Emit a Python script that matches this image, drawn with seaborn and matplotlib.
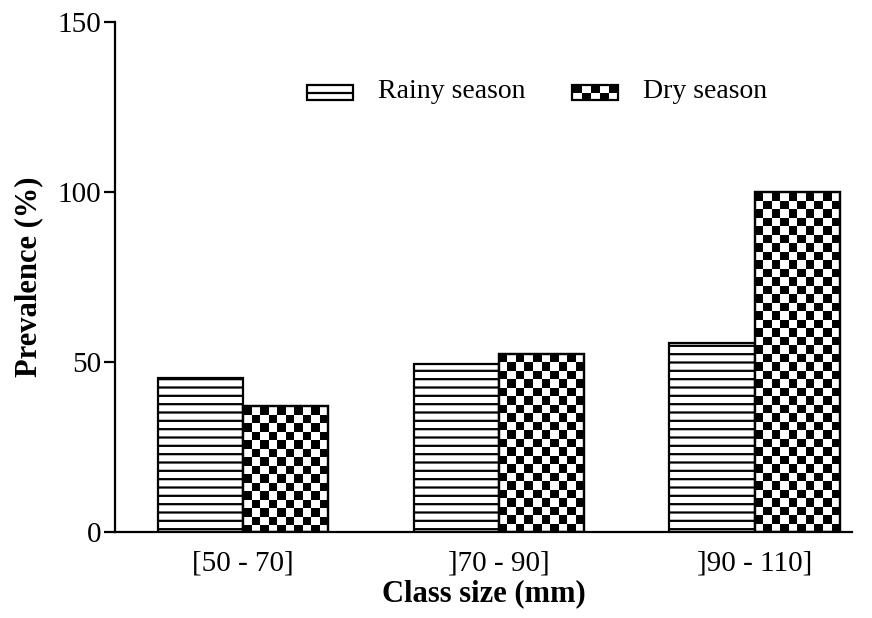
import numpy as np
import pandas as pd
import seaborn as sns
import matplotlib
matplotlib.use("Agg")
import matplotlib.pyplot as plt
from matplotlib.patches import Rectangle
from matplotlib.lines import Line2D
from matplotlib.collections import PatchCollection
from matplotlib.legend_handler import HandlerBase

# Data
classes = ["[50 - 70]", "]70 - 90]", "]90 - 110]"]
rainy = [45.2, 49.4, 55.6]
dry = [37.0, 52.4, 100.0]
seasons = ["Rainy season", "Dry season"]
yticks = [0, 50, 100, 150]

df = pd.DataFrame({
    "Class": classes * 2,
    "Prevalence": rainy + dry,
    "Season": [seasons[0]] * len(classes) + [seasons[1]] * len(classes),
})

sns.set_theme(style="ticks")
plt.rcParams["font.family"] = ["Liberation Serif", "DejaVu Serif"]
plt.rcParams["text.color"] = "black"
plt.rcParams["axes.labelcolor"] = "black"
plt.rcParams["xtick.color"] = "black"
plt.rcParams["ytick.color"] = "black"
plt.rcParams["hatch.linewidth"] = 1.6
plt.rcParams["hatch.color"] = "black"

LW = 1.6
FS_TICK = 21
FS_LEG = 20
FS_LABEL = 22

fig = plt.figure(figsize=(8.72, 6.18), dpi=100)
ax = fig.add_axes([0.132, 0.139, 0.845, 0.825])

sns.barplot(data=df, x="Class", y="Prevalence", hue="Season",
            hue_order=seasons, order=classes,
            palette=["white", "white"], saturation=1,
            edgecolor="black", linewidth=LW, width=0.667,
            legend=False, ax=ax)

bars = [p for p in ax.patches if isinstance(p, Rectangle)]
rainy_bars = bars[:len(classes)]
dry_bars = bars[len(classes):]

for p in rainy_bars:
    p.set_hatch("--")

# checkerboard texture for the dry-season bars, built from squares clipped to each bar
sq_y = 2.5
ncols = 10
for p in dry_bars:
    x0, w, h = p.get_x(), p.get_width(), p.get_height()
    sq_x = w / ncols
    nrows = int(np.ceil(h / sq_y))
    squares = []
    for i in range(nrows):
        for j in range(ncols):
            if (i + j) % 2 == 0:
                squares.append(Rectangle((x0 + j * sq_x, h - (i + 1) * sq_y), sq_x, sq_y))
    pc = PatchCollection(squares, facecolor="black", edgecolor="none",
                         antialiased=False, zorder=p.get_zorder() + 0.1)
    ax.add_collection(pc)
    pc.set_clip_path(p)
    ax.add_patch(Rectangle((x0, 0), w, h, fill=False, edgecolor="black",
                           linewidth=LW, zorder=p.get_zorder() + 0.2))

ax.set_xlim(-0.5, 2.38)
ax.set_ylim(0, 150)
ax.set_yticks(yticks)

for s in ["top", "right"]:
    ax.spines[s].set_visible(False)
for s in ["left", "bottom"]:
    ax.spines[s].set_linewidth(LW)
    ax.spines[s].set_color("black")

ax.tick_params(axis="y", length=8, width=LW, labelsize=FS_TICK, colors="black", pad=2)
ax.tick_params(axis="x", length=0, labelsize=FS_TICK, colors="black", pad=13)

ax.set_xlabel("Class size (mm)", fontsize=FS_LABEL, fontweight="bold", labelpad=2)
ax.set_ylabel("Prevalence (%)", fontsize=FS_LABEL, fontweight="bold", labelpad=10)


class StripeHandler(HandlerBase):
    def create_artists(self, legend, orig, xd, yd, width, height, fontsize, trans):
        r = Rectangle((xd, yd), width, height, facecolor="white",
                      edgecolor="black", linewidth=LW, transform=trans)
        ln = Line2D([xd, xd + width], [yd + height / 2] * 2, color="black",
                    linewidth=LW, transform=trans)
        return [r, ln]


class CheckerHandler(HandlerBase):
    def create_artists(self, legend, orig, xd, yd, width, height, fontsize, trans):
        arts = [Rectangle((xd, yd), width, height, facecolor="white",
                          edgecolor="none", transform=trans)]
        nc, nr = 5, 2
        cw, ch = width / nc, height / nr
        for i in range(nr):
            for j in range(nc):
                if (i + j) % 2 == 0:
                    arts.append(Rectangle((xd + j * cw, yd + (nr - 1 - i) * ch), cw, ch,
                                          facecolor="black", edgecolor="none",
                                          transform=trans))
        arts.append(Rectangle((xd, yd), width, height, fill=False,
                              edgecolor="black", linewidth=LW, transform=trans))
        return arts


h_rainy = Rectangle((0, 0), 1, 1)
h_dry = Rectangle((0, 0), 1, 1)
fig.legend([h_rainy, h_dry], seasons,
           handler_map={h_rainy: StripeHandler(), h_dry: CheckerHandler()},
           loc="center left", bbox_to_anchor=(293 / 872, 1 - 92 / 618),
           ncol=2, frameon=False, fontsize=FS_LEG, borderpad=0,
           handlelength=1.65, handleheight=0.5, handletextpad=0.9,
           columnspacing=1.7)

fig.savefig("out.png", dpi=100)
